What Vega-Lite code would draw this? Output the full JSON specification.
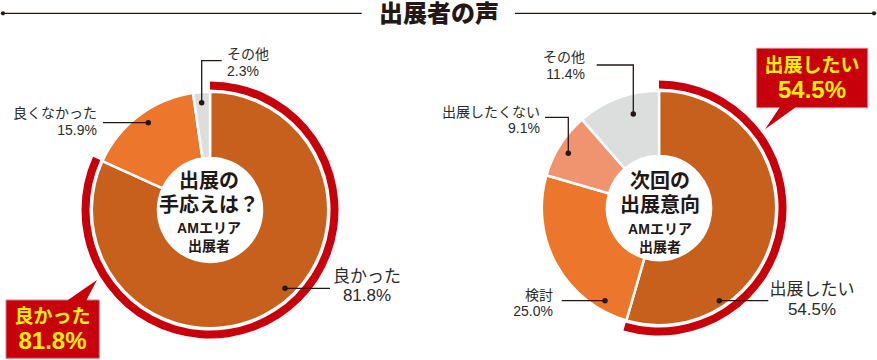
{
  "$schema": "https://vega.github.io/schema/vega-lite/v6.json",
  "width": 877,
  "height": 360,
  "autosize": {"type": "fit", "contains": "padding"},
  "padding": 0,
  "background": "white",
  "config": {"view": {"stroke": null}, "font": "Liberation Sans, Noto Sans CJK JP"},
  "datasets": {
    "survey": [
      {"chart": "出展の手応え", "category": "良かった", "value": 81.8, "order": 1},
      {"chart": "出展の手応え", "category": "良くなかった", "value": 15.9, "order": 2},
      {"chart": "出展の手応え", "category": "その他", "value": 2.3, "order": 3},
      {"chart": "次回の出展意向", "category": "出展したい", "value": 54.5, "order": 1},
      {"chart": "次回の出展意向", "category": "検討", "value": 25.0, "order": 2},
      {"chart": "次回の出展意向", "category": "出展したくない", "value": 9.1, "order": 3},
      {"chart": "次回の出展意向", "category": "その他", "value": 11.4, "order": 4}
    ],
    "leaders": [
      {"id": "t1", "ord": 1, "x": 3, "y": 13.3},
      {"id": "t1", "ord": 2, "x": 361.7, "y": 13.3},
      {"id": "t2", "ord": 1, "x": 515, "y": 13.3},
      {"id": "t2", "ord": 2, "x": 874, "y": 13.3},
      {"id": "L1", "ord": 1, "x": 201.7, "y": 102.7},
      {"id": "L1", "ord": 2, "x": 201.7, "y": 60.7},
      {"id": "L1", "ord": 3, "x": 221.7, "y": 60.7},
      {"id": "L2", "ord": 1, "x": 148.3, "y": 122.7},
      {"id": "L2", "ord": 2, "x": 103, "y": 122.7},
      {"id": "L3", "ord": 1, "x": 285, "y": 288.3},
      {"id": "L3", "ord": 2, "x": 330, "y": 288.3},
      {"id": "R1", "ord": 1, "x": 633.3, "y": 114},
      {"id": "R1", "ord": 2, "x": 633.3, "y": 65},
      {"id": "R1", "ord": 3, "x": 596.7, "y": 65},
      {"id": "R2", "ord": 1, "x": 568.3, "y": 153.3},
      {"id": "R2", "ord": 2, "x": 568.3, "y": 117.3},
      {"id": "R2", "ord": 3, "x": 545, "y": 117.3},
      {"id": "R3", "ord": 1, "x": 605, "y": 300.7},
      {"id": "R3", "ord": 2, "x": 561.7, "y": 300.7},
      {"id": "R4", "ord": 1, "x": 719.3, "y": 300.7},
      {"id": "R4", "ord": 2, "x": 768.3, "y": 300.7}
    ],
    "dots": [
      {"x": 201.7, "y": 102.7},
      {"x": 148.3, "y": 122.7},
      {"x": 285, "y": 288.3},
      {"x": 633.3, "y": 114},
      {"x": 568.3, "y": 153.3},
      {"x": 605, "y": 300.7},
      {"x": 719.3, "y": 300.7}
    ],
    "enddots": [
      {"x": 3, "y": 13.3},
      {"x": 874, "y": 13.3}
    ],
    "boxes": [
      {"x": 6, "x2": 99.3, "y": 300, "y2": 358.3},
      {"x": 756.7, "x2": 867.7, "y": 48.3, "y2": 107.7}
    ],
    "pointers": [
      {"id": "L", "x": 68, "y": 300, "y2": 301},
      {"id": "L", "x": 86, "y": 287.6, "y2": 301},
      {"id": "L", "x": 97, "y": 280, "y2": 280},
      {"id": "R", "x": 765, "y": 129.3, "y2": 129.3},
      {"id": "R", "x": 780, "y": 107, "y2": 118.5},
      {"id": "R", "x": 795, "y": 107, "y2": 107.7}
    ],
    "texts": [
      {"role": "title", "x": 439, "y": 15, "text": "出展者の声"},
      {"role": "labelL", "x": 227, "y": 48, "text": "その他\n2.3%"},
      {"role": "labelR", "x": 97, "y": 107, "text": "良くなかった\n15.9%"},
      {"role": "labelR", "x": 585, "y": 51.3, "text": "その他\n11.4%"},
      {"role": "labelR", "x": 540, "y": 105.7, "text": "出展したくない\n9.1%"},
      {"role": "labelR", "x": 553, "y": 288.5, "text": "検討\n25.0%"},
      {"role": "labelMain", "x": 367, "y": 268.7, "text": "良かった\n81.8%"},
      {"role": "labelMain", "x": 812, "y": 282, "text": "出展したい\n54.5%"},
      {"role": "hub", "x": 209, "y": 172, "text": "出展の\n手応えは？"},
      {"role": "hub", "x": 660, "y": 172, "text": "次回の\n出展意向"},
      {"role": "hubSub", "x": 209, "y": 222, "text": "AMエリア\n出展者"},
      {"role": "hubSub", "x": 660, "y": 223, "text": "AMエリア\n出展者"},
      {"role": "callout", "x": 52.5, "y": 317.3, "text": "良かった"},
      {"role": "callout", "x": 812, "y": 66, "text": "出展したい"},
      {"role": "calloutPct", "x": 52.5, "y": 342, "text": "81.8%"},
      {"role": "calloutPct", "x": 812, "y": 90.5, "text": "54.5%"}
    ]
  },
  "layer": [
    {
      "data": {"name": "survey"},
      "transform": [{"filter": "datum.chart === '出展の手応え'"}],
      "mark": {"type": "arc", "outerRadius": 118.2, "innerRadius": 52, "stroke": "white", "strokeWidth": 2.5},
      "encoding": {
        "x": {"datum": 210, "type": "quantitative", "scale": {"domain": [0, 877], "nice": false, "zero": false}, "axis": null},
        "y": {"datum": 210, "type": "quantitative", "scale": {"domain": [0, 360], "nice": false, "zero": false, "reverse": true}, "axis": null},
        "theta": {"field": "value", "type": "quantitative", "stack": true, "scale": {"domain": [0, 100]}},
        "order": {"field": "order", "type": "quantitative"},
        "color": {"field": "category", "type": "nominal", "legend": null,
          "scale": {"domain": ["良かった", "良くなかった", "その他", "出展したい", "検討", "出展したくない"],
                    "range": ["#C8601D", "#EC762B", "#DCDDDD", "#C8601D", "#EC762B", "#EF946F"]}}
      }
    },
    {
      "data": {"name": "survey"},
      "transform": [{"filter": "datum.chart === '次回の出展意向'"}],
      "mark": {"type": "arc", "outerRadius": 117.2, "innerRadius": 52, "stroke": "white", "strokeWidth": 2.5},
      "encoding": {
        "x": {"datum": 659, "type": "quantitative", "scale": {"domain": [0, 877], "nice": false, "zero": false}, "axis": null},
        "y": {"datum": 208, "type": "quantitative", "scale": {"domain": [0, 360], "nice": false, "zero": false, "reverse": true}, "axis": null},
        "theta": {"field": "value", "type": "quantitative", "stack": true, "scale": {"domain": [0, 100]}},
        "order": {"field": "order", "type": "quantitative"},
        "color": {"field": "category", "type": "nominal", "legend": null,
          "scale": {"domain": ["良かった", "良くなかった", "その他", "出展したい", "検討", "出展したくない"],
                    "range": ["#C8601D", "#EC762B", "#DCDDDD", "#C8601D", "#EC762B", "#EF946F"]}}
      }
    },
    {
      "data": {"name": "survey"},
      "transform": [{"filter": "datum.chart === '出展の手応え' && datum.order === 1"}],
      "mark": {"type": "arc", "outerRadius": 128.5, "innerRadius": 120.5, "fill": "#C8000B"},
      "encoding": {
        "x": {"datum": 210, "type": "quantitative", "scale": {"domain": [0, 877], "nice": false, "zero": false}, "axis": null},
        "y": {"datum": 210, "type": "quantitative", "scale": {"domain": [0, 360], "nice": false, "zero": false, "reverse": true}, "axis": null},
        "theta": {"field": "value", "type": "quantitative", "stack": true, "scale": {"domain": [0, 100]}}
      }
    },
    {
      "data": {"name": "survey"},
      "transform": [{"filter": "datum.chart === '次回の出展意向' && datum.order === 1"}],
      "mark": {"type": "arc", "outerRadius": 127.5, "innerRadius": 119.5, "fill": "#C8000B"},
      "encoding": {
        "x": {"datum": 659, "type": "quantitative", "scale": {"domain": [0, 877], "nice": false, "zero": false}, "axis": null},
        "y": {"datum": 208, "type": "quantitative", "scale": {"domain": [0, 360], "nice": false, "zero": false, "reverse": true}, "axis": null},
        "theta": {"field": "value", "type": "quantitative", "stack": true, "scale": {"domain": [0, 100]}}
      }
    },
    {
      "data": {"name": "boxes"},
      "mark": {"type": "rect", "fill": "#C8000B", "stroke": "#E07A82", "strokeWidth": 1},
      "encoding": {
        "x": {"field": "x", "type": "quantitative", "scale": {"domain": [0, 877], "nice": false, "zero": false}, "axis": null},
        "x2": {"field": "x2"},
        "y": {"field": "y", "type": "quantitative", "scale": {"domain": [0, 360], "nice": false, "zero": false, "reverse": true}, "axis": null},
        "y2": {"field": "y2"}
      }
    },
    {
      "data": {"name": "pointers"},
      "mark": {"type": "area", "fill": "#C8000B", "orient": "vertical"},
      "encoding": {
        "x": {"field": "x", "type": "quantitative", "scale": {"domain": [0, 877], "nice": false, "zero": false}, "axis": null},
        "y": {"field": "y", "type": "quantitative", "stack": null, "scale": {"domain": [0, 360], "nice": false, "zero": false, "reverse": true}, "axis": null},
        "y2": {"field": "y2"},
        "detail": {"field": "id", "type": "nominal"}
      }
    },
    {
      "data": {"name": "leaders"},
      "mark": {"type": "line", "stroke": "#231815", "strokeWidth": 1.3},
      "encoding": {
        "x": {"field": "x", "type": "quantitative", "scale": {"domain": [0, 877], "nice": false, "zero": false}, "axis": null},
        "y": {"field": "y", "type": "quantitative", "scale": {"domain": [0, 360], "nice": false, "zero": false, "reverse": true}, "axis": null},
        "detail": {"field": "id", "type": "nominal"},
        "order": {"field": "ord", "type": "quantitative"}
      }
    },
    {
      "data": {"name": "dots"},
      "mark": {"type": "point", "shape": "circle", "filled": true, "size": 30, "color": "#231815", "opacity": 1},
      "encoding": {
        "x": {"field": "x", "type": "quantitative", "scale": {"domain": [0, 877], "nice": false, "zero": false}, "axis": null},
        "y": {"field": "y", "type": "quantitative", "scale": {"domain": [0, 360], "nice": false, "zero": false, "reverse": true}, "axis": null}
      }
    },
    {
      "data": {"name": "enddots"},
      "mark": {"type": "point", "shape": "circle", "filled": true, "size": 18, "color": "#231815", "opacity": 1},
      "encoding": {
        "x": {"field": "x", "type": "quantitative", "scale": {"domain": [0, 877], "nice": false, "zero": false}, "axis": null},
        "y": {"field": "y", "type": "quantitative", "scale": {"domain": [0, 360], "nice": false, "zero": false, "reverse": true}, "axis": null}
      }
    },
    {
      "data": {"name": "texts"},
      "transform": [{"filter": "datum.role === 'title'"}],
      "mark": {"type": "text", "align": "center", "baseline": "middle", "fontSize": 24, "fontWeight": 900, "color": "#231815"},
      "encoding": {
        "x": {"field": "x", "type": "quantitative", "scale": {"domain": [0, 877], "nice": false, "zero": false}, "axis": null},
        "y": {"field": "y", "type": "quantitative", "scale": {"domain": [0, 360], "nice": false, "zero": false, "reverse": true}, "axis": null},
        "text": {"field": "text"}
      }
    },
    {
      "data": {"name": "texts"},
      "transform": [{"filter": "datum.role === 'labelL'"}],
      "mark": {"type": "text", "align": "left", "baseline": "top", "lineBreak": "\n", "lineHeight": 16.7, "fontSize": 14, "color": "#2B2B2B"},
      "encoding": {
        "x": {"field": "x", "type": "quantitative", "scale": {"domain": [0, 877], "nice": false, "zero": false}, "axis": null},
        "y": {"field": "y", "type": "quantitative", "scale": {"domain": [0, 360], "nice": false, "zero": false, "reverse": true}, "axis": null},
        "text": {"field": "text"}
      }
    },
    {
      "data": {"name": "texts"},
      "transform": [{"filter": "datum.role === 'labelR'"}],
      "mark": {"type": "text", "align": "right", "baseline": "top", "lineBreak": "\n", "lineHeight": 16.5, "fontSize": 14, "color": "#2B2B2B"},
      "encoding": {
        "x": {"field": "x", "type": "quantitative", "scale": {"domain": [0, 877], "nice": false, "zero": false}, "axis": null},
        "y": {"field": "y", "type": "quantitative", "scale": {"domain": [0, 360], "nice": false, "zero": false, "reverse": true}, "axis": null},
        "text": {"field": "text"}
      }
    },
    {
      "data": {"name": "texts"},
      "transform": [{"filter": "datum.role === 'labelMain'"}],
      "mark": {"type": "text", "align": "center", "baseline": "top", "lineBreak": "\n", "lineHeight": 19.7, "fontSize": 17, "color": "#2B2B2B"},
      "encoding": {
        "x": {"field": "x", "type": "quantitative", "scale": {"domain": [0, 877], "nice": false, "zero": false}, "axis": null},
        "y": {"field": "y", "type": "quantitative", "scale": {"domain": [0, 360], "nice": false, "zero": false, "reverse": true}, "axis": null},
        "text": {"field": "text"}
      }
    },
    {
      "data": {"name": "texts"},
      "transform": [{"filter": "datum.role === 'hub'"}],
      "mark": {"type": "text", "align": "center", "baseline": "top", "lineBreak": "\n", "lineHeight": 24, "fontSize": 20, "fontWeight": "bold", "color": "#231815"},
      "encoding": {
        "x": {"field": "x", "type": "quantitative", "scale": {"domain": [0, 877], "nice": false, "zero": false}, "axis": null},
        "y": {"field": "y", "type": "quantitative", "scale": {"domain": [0, 360], "nice": false, "zero": false, "reverse": true}, "axis": null},
        "text": {"field": "text"}
      }
    },
    {
      "data": {"name": "texts"},
      "transform": [{"filter": "datum.role === 'hubSub'"}],
      "mark": {"type": "text", "align": "center", "baseline": "top", "lineBreak": "\n", "lineHeight": 18, "fontSize": 14, "fontWeight": "bold", "color": "#231815"},
      "encoding": {
        "x": {"field": "x", "type": "quantitative", "scale": {"domain": [0, 877], "nice": false, "zero": false}, "axis": null},
        "y": {"field": "y", "type": "quantitative", "scale": {"domain": [0, 360], "nice": false, "zero": false, "reverse": true}, "axis": null},
        "text": {"field": "text"}
      }
    },
    {
      "data": {"name": "texts"},
      "transform": [{"filter": "datum.role === 'callout'"}],
      "mark": {"type": "text", "align": "center", "baseline": "middle", "fontSize": 19, "fontWeight": "bold", "color": "#FFF100"},
      "encoding": {
        "x": {"field": "x", "type": "quantitative", "scale": {"domain": [0, 877], "nice": false, "zero": false}, "axis": null},
        "y": {"field": "y", "type": "quantitative", "scale": {"domain": [0, 360], "nice": false, "zero": false, "reverse": true}, "axis": null},
        "text": {"field": "text"}
      }
    },
    {
      "data": {"name": "texts"},
      "transform": [{"filter": "datum.role === 'calloutPct'"}],
      "mark": {"type": "text", "align": "center", "baseline": "middle", "fontSize": 24, "fontWeight": "bold", "color": "#FFF100"},
      "encoding": {
        "x": {"field": "x", "type": "quantitative", "scale": {"domain": [0, 877], "nice": false, "zero": false}, "axis": null},
        "y": {"field": "y", "type": "quantitative", "scale": {"domain": [0, 360], "nice": false, "zero": false, "reverse": true}, "axis": null},
        "text": {"field": "text"}
      }
    }
  ]
}
